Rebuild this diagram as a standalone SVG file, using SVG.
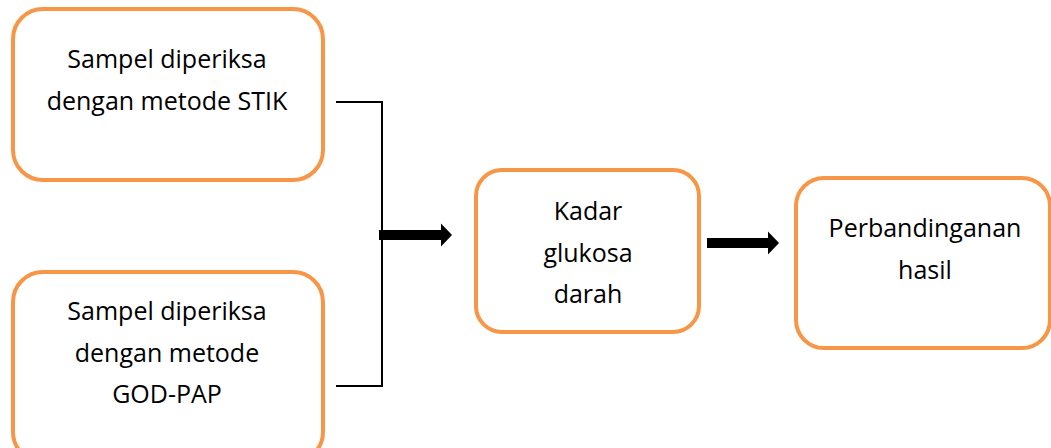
<svg xmlns="http://www.w3.org/2000/svg" width="1051" height="448" viewBox="0 0 1051 448">
<style>
.box{fill:#fff;stroke:#f79646;stroke-width:4}
.t{font-family:"Open Sans","Noto Sans",sans-serif;font-size:25px;fill:#000;text-anchor:middle}
.ln{fill:none;stroke:#000;stroke-width:2}
.ar{fill:#000}
</style>
<rect width="1051" height="448" fill="#fff"/>
<g id="node-stik">
<rect class="box" x="13" y="9" width="310" height="171" rx="30"/>
<text class="t" x="167" y="68">Sampel diperiksa</text>
<text class="t" x="167" y="110">dengan metode STIK</text>
</g>
<g id="node-godpap">
<rect class="box" x="13" y="272" width="310" height="190" rx="30"/>
<text class="t" x="167" y="320">Sampel diperiksa</text>
<text class="t" x="167" y="362">dengan metode</text>
<text class="t" x="167" y="403">GOD-PAP</text>
</g>
<g id="node-kadar">
<rect class="box" x="476" y="170" width="223" height="162" rx="26"/>
<text class="t" x="588" y="220">Kadar</text>
<text class="t" x="588" y="262">glukosa</text>
<text class="t" x="588" y="303">darah</text>
</g>
<g id="node-hasil">
<rect class="box" x="796" y="178" width="254" height="170" rx="28"/>
<text class="t" x="925" y="237">Perbandinganan</text>
<text class="t" x="925" y="279">hasil</text>
</g>
<g id="connectors">
<polyline class="ln" points="336,102 382,102 382,386 336,386"/>
<polygon class="ar" points="379,230 441,230 441,223.5 452,235 441,246.5 441,240 379,240"/>
<polygon class="ar" points="707,238 768,238 768,231.5 779,243 768,254.5 768,248 707,248"/>
</g>
</svg>
